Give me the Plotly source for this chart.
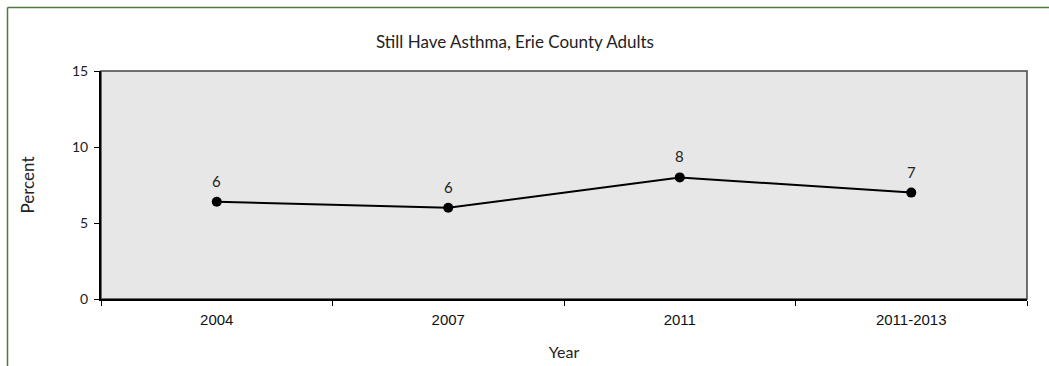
import plotly.graph_objects as go

# Survey periods and the share of adults who still have asthma
years = ["2004", "2007", "2011", "2011-2013"]
percent = [6.4, 6.0, 8.0, 7.0]
y_ticks = [0, 5, 10, 15]

W, H = 1049, 366
L, R, T, B = 101, 22, 71, 67
pw, ph = W - L - R, H - T - B


def px_x(x):
    return (x - L) / pw


def px_y(y):
    return (H - B - y) / ph


SANS = "Lato, Open Sans, sans-serif"
TXT = "#222222"

fig = go.Figure()
fig.add_trace(go.Scatter(
    x=years,
    y=percent,
    mode="lines+markers",
    line=dict(color="black", width=2),
    marker=dict(color="black", size=10),
    cliponaxis=False,
    showlegend=False,
    hoverinfo="skip",
))

# value labels above each point (category axis positions by index)
annotations = [
    dict(x=i, y=v, xref="x", yref="y", text=f"{v:.0f}", showarrow=False,
         yshift=21, font=dict(family=SANS, size=15, color=TXT))
    for i, v in enumerate(percent)
]

fig.update_layout(
    width=W,
    height=H,
    margin=dict(l=L, r=R, t=T, b=B, autoexpand=False),
    paper_bgcolor="white",
    plot_bgcolor="#e6e7e6",
    annotations=annotations,
    title=dict(
        text="Still Have Asthma, Erie County Adults",
        x=515 / W,
        xanchor="center",
        y=1 - 42 / H,
        yanchor="middle",
        font=dict(family=SANS, size=17, color=TXT),
    ),
    xaxis=dict(
        type="category",
        range=[-0.5, 3.5],
        automargin=False,
        showgrid=False,
        zeroline=False,
        showline=True,
        linecolor="black",
        linewidth=2,
        ticks="outside",
        ticklen=5,
        tickcolor="black",
        tickson="boundaries",
        ticklabelstandoff=6,
        tickfont=dict(family="Liberation Sans, Arial, sans-serif", size=15, color="#111111"),
        title=dict(text="Year", font=dict(family=SANS, size=16, color=TXT), standoff=20),
    ),
    yaxis=dict(
        range=[0, 15],
        tickvals=y_ticks,
        automargin=False,
        showgrid=False,
        zeroline=False,
        showline=True,
        linecolor="black",
        linewidth=2,
        ticks="outside",
        ticklen=5,
        tickcolor="black",
        ticklabelstandoff=3,
        tickfont=dict(family=SANS, size=14, color=TXT),
        title=dict(text="Percent", font=dict(family=SANS, size=17, color=TXT), standoff=33),
    ),
    shapes=[
        # frame of the plotting area (top and right edges)
        dict(type="rect", xref="paper", yref="paper", x0=0, x1=1, y0=0, y1=1,
             line=dict(color="#444444", width=1.5), layer="below"),
        # green slide border
        dict(type="line", xref="paper", yref="paper",
             x0=px_x(7.5), x1=px_x(7.5), y0=px_y(7.5), y1=px_y(H + 2),
             line=dict(color="#4e7a3c", width=1.5)),
        dict(type="line", xref="paper", yref="paper",
             x0=px_x(7.5), x1=px_x(W + 2), y0=px_y(7.5), y1=px_y(7.5),
             line=dict(color="#4e7a3c", width=1.5)),
    ],
)

fig.write_html("out.html")
